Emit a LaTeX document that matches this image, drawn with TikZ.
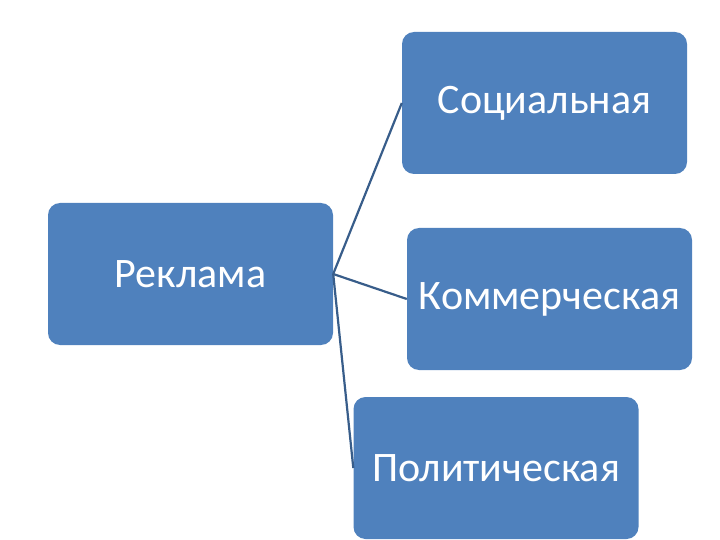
\documentclass[tikz,border=0pt]{standalone}
\usepackage{fontspec}
\setmainfont{Carlito}
\definecolor{boxblue}{HTML}{4F81BD}
\definecolor{linkblue}{HTML}{385D8A}
\tikzset{
  catbox/.style={fill=boxblue, rounded corners=12pt, minimum width=285pt, minimum height=142pt, inner sep=0pt, text=white, font=\fontsize{42}{50}\selectfont},
  link/.style={draw=linkblue, line width=2.2pt}
}
\begin{document}
\begin{tikzpicture}[x=1pt, y=-1pt]
\useasboundingbox (0,0) rectangle (720,540);
\node[catbox] (r) at (190.5,274) {Реклама};
\node[catbox] (s) at (544.5,103) {Социальная};
\node[catbox] (k) at (549.5,299) {Коммерческая};
\node[catbox] (p) at (496,468) {Политическая};
\draw[link] (r.east) -- (s.west);
\draw[link] (r.east) -- (k.west);
\draw[link] (r.east) -- (p.west);
\end{tikzpicture}
\end{document}
